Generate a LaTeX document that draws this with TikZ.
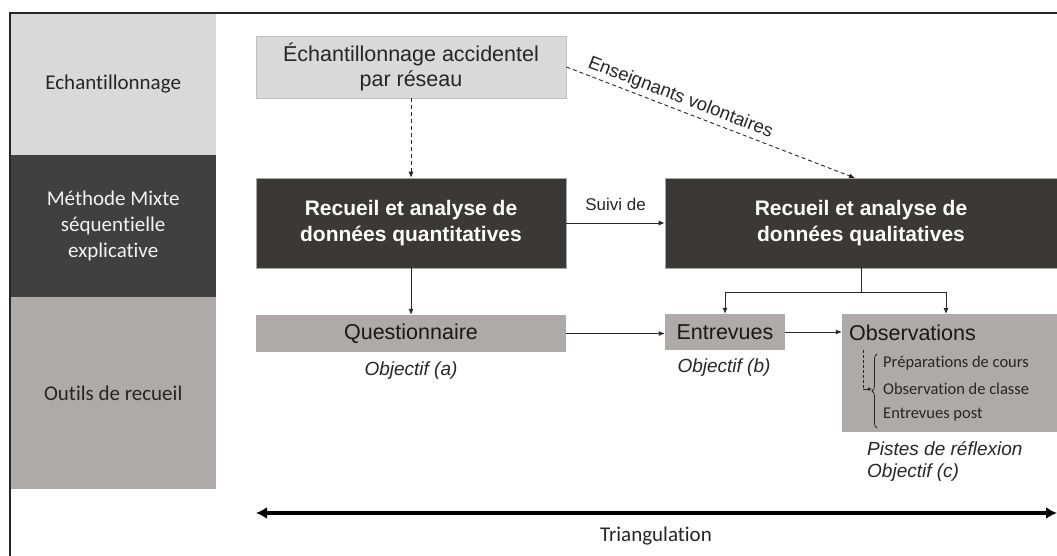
\documentclass[tikz,border=0pt]{standalone}
\usepackage{fontspec}
\setmainfont{Liberation Sans}
\newfontfamily\calibrifont[Ligatures=NoCommon]{Carlito}
\usetikzlibrary{arrows.meta,decorations.pathreplacing}
\definecolor{lgray}{HTML}{D9D9D9}
\definecolor{dgray}{HTML}{404040}
\definecolor{boxdark}{HTML}{3B3838}
\definecolor{mgray}{HTML}{AEAAAA}
\definecolor{ink}{HTML}{262626}
\definecolor{edge}{HTML}{BFBFBF}
\tikzset{
  rowbox/.style={anchor=north west, minimum width=206pt, inner sep=0pt, align=center,
    font=\calibrifont\fontsize{21}{26}\selectfont},
  lbox/.style={fill=lgray, draw=edge, line width=0.8pt, inner sep=0pt, align=center, text=ink,
    font=\fontsize{21.5}{25}\selectfont},
  dbox/.style={fill=boxdark, draw=gray!70, line width=0.6pt, inner sep=0pt, align=center, text=white,
    font=\bfseries\fontsize{21}{26}\selectfont},
  mbox/.style={fill=mgray, draw=none, inner sep=0pt, align=center, text=black!90,
    font=\fontsize{21.5}{25}\selectfont},
  txt/.style={inner sep=0pt, text=black!90, font=\fontsize{21.5}{25}\selectfont},
  obj/.style={inner sep=0pt, text=ink, font=\itshape\fontsize{19}{22}\selectfont},
  itemtxt/.style={inner sep=0pt, anchor=west, text=ink, font=\calibrifont\fontsize{16.5}{20}\selectfont},
  arr/.style={draw=ink, line width=0.9pt, -{Latex[length=6pt,width=5pt]}},
  darr/.style={arr, dashed, dash pattern=on 4pt off 3pt},
  tri/.style={draw=black, line width=3.5pt, {Latex[length=11pt,width=12pt]}-{Latex[length=11pt,width=12pt]}},
  frameline/.style={draw=black!85, line width=1.6pt}
}
\begin{document}
\begin{tikzpicture}[x=1pt,y=-1pt]
\useasboundingbox[fill=white] (0,0) rectangle (1057,556);

% left column
\node[rowbox, fill=lgray, minimum height=142pt, text=ink] (r1) at (10,13) {Echantillonnage};
\node[rowbox, fill=dgray, minimum height=142pt, text=white!95!black] (r2) at (10,155) {Méthode Mixte\\séquentielle\\explicative};
\node[rowbox, fill=mgray, minimum height=192pt, text=ink] (r3) at (10,297) {Outils de recueil};

% frame
\coordinate (fbl) at (10,556);
\coordinate (ftl) at (10,13);
\coordinate (ftr) at (1057,13);
\draw[frameline] (fbl) -- (ftl) -- (ftr);

% main boxes
\node[lbox, minimum width=310pt, minimum height=62pt] (ech) at (411,67) {Échantillonnage accidentel\\par réseau};
\node[dbox, minimum width=310pt, minimum height=90pt] (quant) at (411,223) {Recueil et analyse de\\données quantitatives};
\node[dbox, minimum width=392pt, minimum height=90pt] (qual) at (861,223) {Recueil et analyse de\\données qualitatives};
\node[mbox, minimum width=310pt, minimum height=37pt] (quest) at (411,333.5) {Questionnaire};
\node[mbox, minimum width=120pt, minimum height=36pt] (entr) at (725,332) {Entrevues};
\node[mbox, minimum width=215pt, minimum height=118pt] (obs) at (949.5,373) {};
\node[txt, anchor=west] (obst) at (849,333) {Observations};

% list inside observations
\node[itemtxt] (it1) at (883,363) {Préparations de cours};
\node[itemtxt] (it2) at (883,389) {Observation de classe};
\node[itemtxt] (it3) at (883,415) {Entrevues post};
\coordinate (bb) at (877,428);
\coordinate (bt) at (877,354);
\draw[ink, line width=0.8pt, decorate, decoration={brace, amplitude=5pt}] (bb) -- (bt);
\coordinate (dtop) at (863,350);
\coordinate (dbot) at (863,389);
\coordinate (btip) at (872,389);
\draw[ink, line width=0.8pt, dashed, dash pattern=on 3pt off 2pt] (dtop) -- (dbot);
\draw[ink, line width=0.8pt, -{Latex[length=4pt,width=4pt]}] (dbot) -- (btip);

% objective labels
\node[obj] (oa) at (411,371) {Objectif (a)};
\node[obj] (ob) at (724,368) {Objectif (b)};
\node[obj, anchor=west, align=left] (oc) at (867,461) {Pistes de réflexion\\Objectif (c)};

% connectors
\coordinate (qualin) at (855,178);
\coordinate (obsin) at (946,314);
\draw[darr] (ech.south) -- (quant.north);
\draw[darr] (ech.east) -- node[pos=0.38, sloped, above=3pt, inner sep=0pt, text=ink,
  font=\fontsize{18.5}{22}\selectfont] {Enseignants volontaires} (qualin);
\draw[arr] (quant.east) -- node[above=12pt, inner sep=0pt, text=ink, font=\fontsize{17}{20}\selectfont] {Suivi de} (qual.west);
\draw[arr] (quant.south) -- (quest.north);
\draw[arr] (quest.east) -- (quest.east -| entr.west);
\draw[arr] (entr.east) -- (entr.east -| obs.west);
\draw[arr] (qual.south) -- ++(0,24) -| (entr.north);
\draw[arr] (qual.south) -- ++(0,24) -| (obsin);

% triangulation
\coordinate (tl) at (256,513);
\coordinate (tr) at (1057,513);
\draw[tri] (tl) -- (tr);
\node[inner sep=0pt, text=ink, font=\calibrifont\fontsize{21}{25}\selectfont] (trt) at (656,536) {Triangulation};
\end{tikzpicture}
\end{document}
